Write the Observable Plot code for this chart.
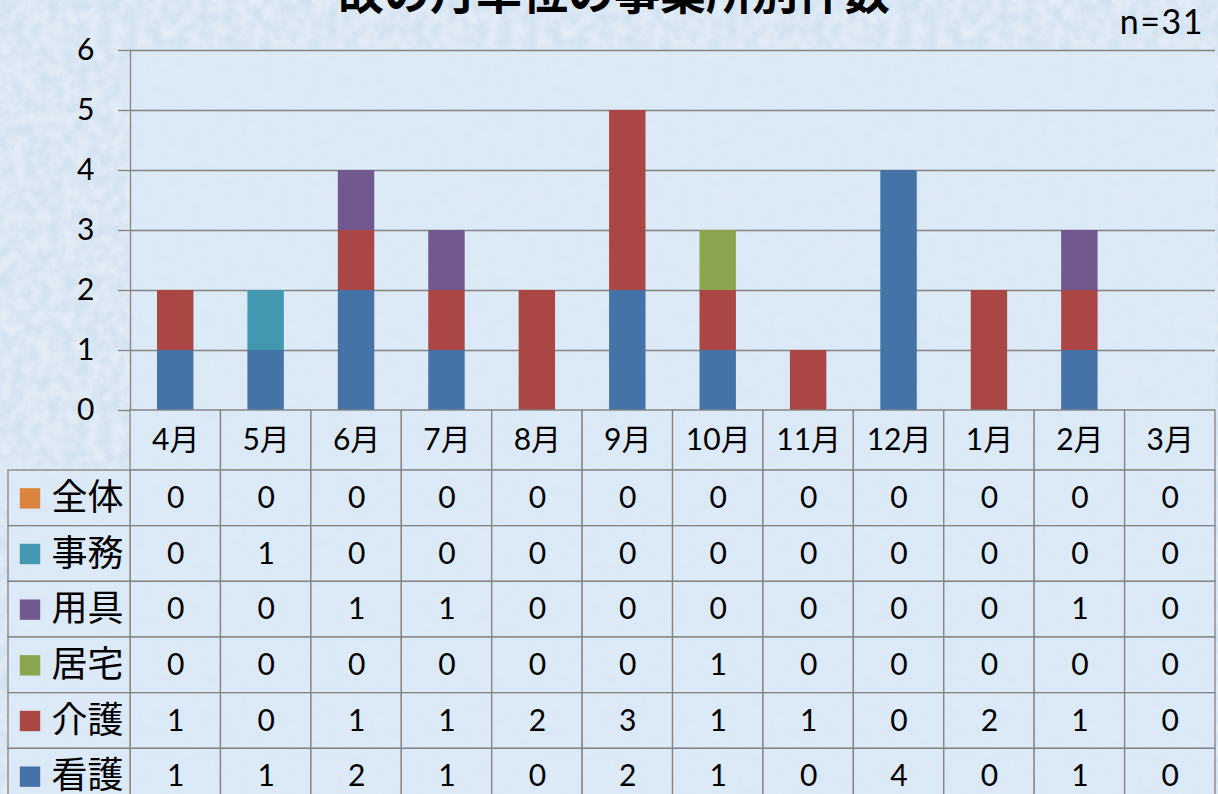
<!DOCTYPE html>
<html><head><meta charset="utf-8">
<script src="https://cdn.jsdelivr.net/npm/d3@7"></script>
<script src="https://cdn.jsdelivr.net/npm/@observablehq/plot@0.6"></script>
<style>
html,body{margin:0;padding:0;width:1218px;height:794px;overflow:hidden;font-family:Lato,"Noto Sans CJK JP",sans-serif;color:#000;}
body{background-color:#d4e3f1;background-image:url("data:image/svg+xml,%3Csvg xmlns='http://www.w3.org/2000/svg' width='400' height='400'%3E%3Cfilter id='f'%3E%3CfeTurbulence type='fractalNoise' baseFrequency='0.08' numOctaves='3' seed='4'/%3E%3CfeColorMatrix values='0 0 0 0 1  0 0 0 0 1  0 0 0 0 1  0 0 0 0.7 -0.2'/%3E%3C/filter%3E%3Crect width='100%25' height='100%25' filter='url(%23f)'/%3E%3C/svg%3E");}
#title{position:absolute;left:5px;width:1218px;text-align:center;top:-34px;font-size:46px;line-height:46px;font-weight:bold;font-family:"Noto Sans CJK JP",sans-serif;white-space:nowrap;}
#n{position:absolute;right:14px;top:0px;font-size:34px;letter-spacing:1.5px;font-family:Lato,sans-serif;}
#chart{position:absolute;left:0;top:0;}
#table{position:absolute;left:0;top:410px;}
</style></head>
<body>
<div id="chart"></div>
<div id="table"></div>
<div id="title">故の月単位の事業所別件数</div>
<div id="n">n=31</div>
<script>
const months = ["4月","5月","6月","7月","8月","9月","10月","11月","12月","1月","2月","3月"];
const categories = ["全体","事務","用具","居宅","介護","看護"];
const colors = ["#db843d","#4198af","#71588f","#89a54e","#aa4643","#4572a7"];
const v全体 = [0,0,0,0,0,0,0,0,0,0,0,0];
const v事務 = [0,1,0,0,0,0,0,0,0,0,0,0];
const v用具 = [0,0,1,1,0,0,0,0,0,0,1,0];
const v居宅 = [0,0,0,0,0,0,1,0,0,0,0,0];
const v介護 = [1,0,1,1,2,3,1,1,0,2,1,0];
const v看護 = [1,1,2,1,0,2,1,0,4,0,1,0];
const yTicks = [0,1,2,3,4,5,6];
const stackOrder = ["看護","介護","居宅","用具","事務","全体"];

const series = {"全体":v全体,"事務":v事務,"用具":v用具,"居宅":v居宅,"介護":v介護,"看護":v看護};
const long = categories.flatMap((c,ri)=>months.map((m,ci)=>({category:c,month:m,row:ri,col:ci,value:series[c][ci]})));
const header = months.map((m,ci)=>({month:m,col:ci}));
const legend = categories.map((c,ri)=>({category:c,row:ri,color:colors[ri]}));

const gridColor = "#838383";
const cellFill = "#dce9f6";
const fontFam = 'Lato, "Noto Sans CJK JP", sans-serif';

const chart = Plot.plot({
  width:1218, height:425,
  marginTop:50, marginBottom:15, marginLeft:130, marginRight:3,
  style:{background:"transparent", overflow:"visible", fontFamily:fontFam, color:"#000"},
  x:{domain:months, padding:0, round:false, axis:null},
  y:{domain:[0,6]},
  color:{domain:categories, range:colors},
  marks:[
    Plot.frame({fill:"#dce9f6", fillOpacity:0.85, stroke:null}),
    Plot.gridY(yTicks,{stroke:gridColor, strokeOpacity:1, strokeWidth:1.3}),
    Plot.axisY(yTicks,{tickSize:12, tickPadding:24, tickFormat:d=>String(d), stroke:gridColor, strokeWidth:1.3, fontSize:30, fill:"#000", label:null}),
    Plot.frame({anchor:"left", stroke:gridColor, strokeWidth:1.3}),
    Plot.barY(long,{x:"month", y:"value", fill:"category", order:stackOrder, insetLeft:27, insetRight:27})
  ]
});
document.getElementById("chart").appendChild(chart);

const HEADER = -60/55.67;
const LEG = -1.35;
const table = Plot.plot({
  width:1218, height:394,
  marginTop:0, marginBottom:0, marginLeft:8, marginRight:3,
  style:{background:"transparent", overflow:"visible", fontFamily:fontFam, color:"#000"},
  x:{type:"linear", domain:[LEG,12], axis:null},
  y:{type:"linear", domain:[HEADER,6], reverse:true, axis:null},
  marks:[
    Plot.rect(header,{x1:"col", x2:d=>d.col+1, y1:()=>HEADER, y2:()=>0, fill:cellFill, fillOpacity:0.9, stroke:gridColor, strokeWidth:1.3}),
    Plot.rect(long,{x1:"col", x2:d=>d.col+1, y1:"row", y2:d=>d.row+1, fill:cellFill, fillOpacity:0.9, stroke:gridColor, strokeWidth:1.3}),
    Plot.rect(legend,{x1:()=>LEG, x2:()=>0, y1:"row", y2:d=>d.row+1, fill:cellFill, fillOpacity:0.9, stroke:gridColor, strokeWidth:1.3}),
    Plot.text(header,{x:d=>d.col+0.5, y:()=>HEADER/2, text:"month", fontSize:30, fill:"#000"}),
    Plot.text(long,{x:d=>d.col+0.5, y:d=>d.row+0.5, text:d=>String(d.value), fontSize:30, fill:"#000"}),
    Plot.dot(legend,{x:()=>-1.112, y:d=>d.row+0.5, symbol:"square", r:11.5, fill:"color", stroke:null}),
    Plot.text(legend,{x:()=>-0.874, y:d=>d.row+0.5, text:"category", textAnchor:"start", fontSize:36, fill:"#000"})
  ]
});
document.getElementById("table").appendChild(table);
</script>
</body></html>
